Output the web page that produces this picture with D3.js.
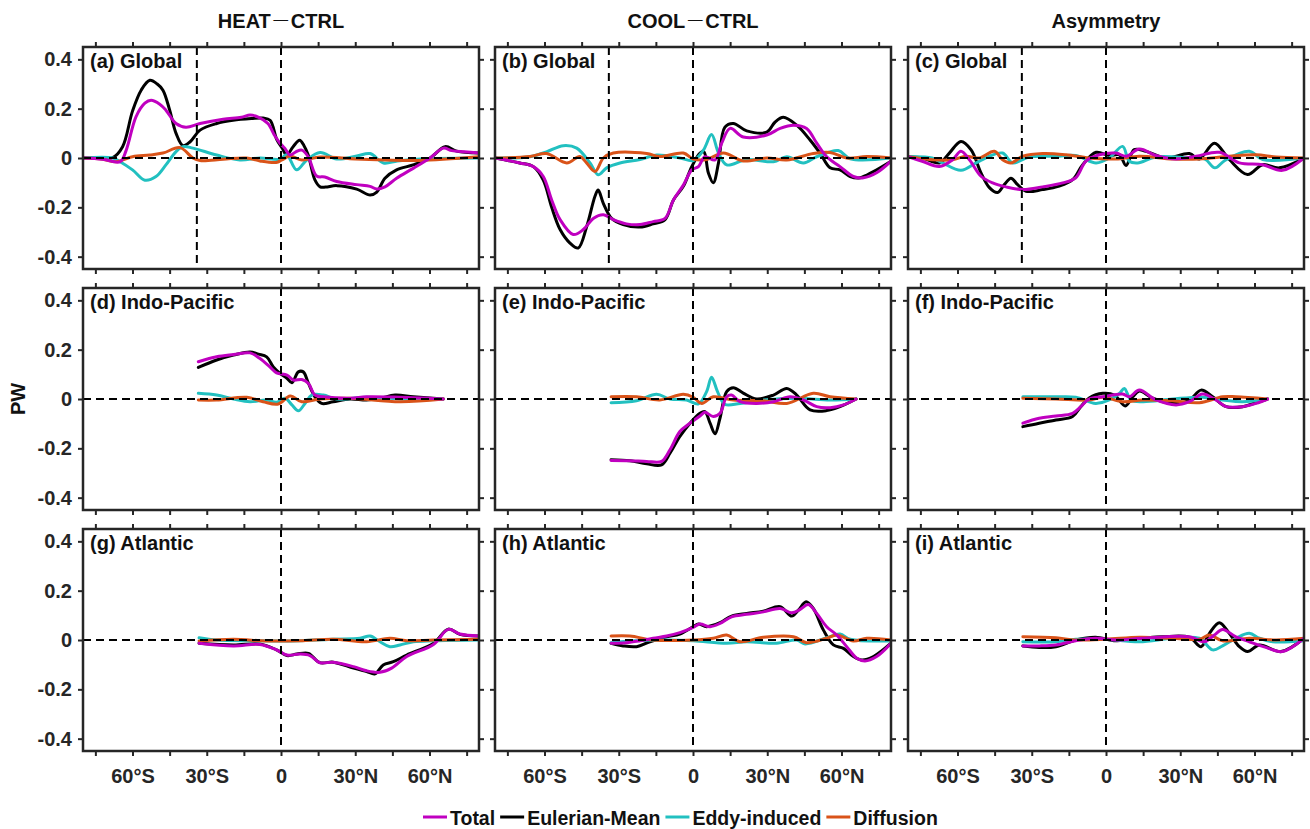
<!DOCTYPE html>
<html>
<head>
<meta charset="utf-8">
<script src="https://cdn.jsdelivr.net/npm/d3@7"></script>
<style>
  html, body { margin: 0; padding: 0; background: #fff; }
  svg { display: block; font-family: "Liberation Sans", Arial, sans-serif; font-weight: bold; }
</style>
</head>
<body>
<svg id="chart" width="1310" height="829"></svg>
<script>
// ---- labels and ticks ----
const columnTitles = ["HEAT", "COOL", "Asymmetry"];
const columnSuffix = ["CTRL", "CTRL", null];
const panelLabels = [
  "(a) Global", "(b) Global", "(c) Global",
  "(d) Indo-Pacific", "(e) Indo-Pacific", "(f) Indo-Pacific",
  "(g) Atlantic", "(h) Atlantic", "(i) Atlantic"
];
const seriesNames = ["Total", "Eulerian-Mean", "Eddy-induced", "Diffusion"];
const yTicks = [-0.4, -0.2, 0, 0.2, 0.4];
const xTicks = [-75, -60, -45, -30, -15, 0, 15, 30, 45, 60, 75];
const xTickLabels = ["60°S", "30°S", "0", "30°N", "60°N"];
const xLabelledTicks = [-60, -30, 0, 30, 60];
const yAxisTitle = "PW";
const capeLatitude = -34;

// ---- meridional heat transport anomalies [latitude, PW] ----
// (a) Global, HEAT - CTRL
const aTotal = [[-80,0],[-72,-0.005],[-65,-0.015],[-62.6,0.03],[-58.6,0.167],[-55,0.222],[-52.5,0.234],[-49,0.218],[-46.5,0.194],[-42.4,0.14],[-38.4,0.125],[-32.7,0.14],[-23.4,0.157],[-16,0.165],[-12.5,0.174],[-9,0.165],[-5.3,0.14],[-2.5,0.09],[-0.4,0.06],[1.5,0.04],[3.6,0.012],[6,0.025],[8.4,0.032],[11,0.005],[14.4,-0.073],[17.7,-0.077],[22.5,-0.095],[30.6,-0.108],[36,-0.115],[38.7,-0.126],[42,-0.117],[46.7,-0.082],[53.4,-0.042],[60.2,0],[65.6,0.04],[69,0.03],[74,0.025],[80,0.02]];
const aEuler = [[-80,0],[-72,0],[-68,0.002],[-64,0.046],[-60,0.19],[-56.5,0.275],[-53,0.315],[-50,0.3],[-47.7,0.275],[-45,0.195],[-42.4,0.1],[-39.6,0.05],[-36.8,0.065],[-32.7,0.113],[-26,0.14],[-19.4,0.153],[-12,0.16],[-7.3,0.162],[-4.4,0.153],[-1.7,0.075],[0.5,0.04],[2.3,0.012],[4.9,0.046],[7.5,0.072],[9.3,0.05],[11,0.012],[13.7,-0.089],[15.8,-0.117],[18,-0.118],[22.5,-0.112],[30.6,-0.126],[36,-0.15],[38.7,-0.138],[42,-0.082],[46.7,-0.048],[53.4,-0.028],[60.2,0],[66.3,0.046],[71,0.028],[80,0.02]];
const aEddy = [[-80,0],[-68,0],[-65,-0.015],[-60,-0.048],[-55,-0.09],[-50.5,-0.075],[-46.5,-0.028],[-42.4,0.026],[-39.6,0.046],[-35.6,0.04],[-26,0.012],[-16.6,-0.008],[-8.5,0],[-0.4,-0.005],[2.3,0.013],[6.3,-0.048],[10.4,-0.008],[15.8,0.022],[22.5,-0.004],[30.6,0.008],[36,0.018],[41.4,-0.02],[47,-0.012],[56,-0.004],[80,0]];
const aDiff = [[-80,0],[-72,-0.005],[-66.6,-0.015],[-60,0.005],[-53,0.012],[-47.7,0.02],[-40.8,0.042],[-35.6,0],[-32.7,-0.01],[-23.4,-0.005],[-14,0],[-8.5,-0.012],[-2,-0.018],[0.4,-0.008],[3.6,0.008],[8.4,-0.008],[15.8,0.004],[30,-0.004],[42,-0.008],[56,-0.01],[80,0.005]];

// (b) Global, COOL - CTRL
const bTotal = [[-80,0],[-70,-0.02],[-64.5,-0.035],[-60.5,-0.075],[-57.1,-0.17],[-53.7,-0.25],[-48.4,-0.31],[-44.3,-0.29],[-40.3,-0.245],[-36.2,-0.23],[-32.2,-0.25],[-26.9,-0.267],[-21.4,-0.27],[-16.1,-0.258],[-11.3,-0.245],[-7.9,-0.17],[-3.9,-0.11],[-0.5,-0.048],[2.2,-0.035],[4.8,0.005],[8.9,-0.008],[11.6,0.06],[15,0.12],[20.3,0.085],[29.8,0.093],[35.2,0.12],[40.6,0.133],[45.9,0.12],[50,0.06],[54,0.005],[59.4,-0.035],[64.8,-0.075],[68.9,-0.08],[74.2,-0.06],[80,-0.013]];
const bEuler = [[-80,0],[-70,-0.02],[-64.5,-0.035],[-60.5,-0.09],[-57.1,-0.2],[-53.7,-0.29],[-49.7,-0.345],[-46.4,-0.365],[-43,-0.28],[-39.6,-0.155],[-38.3,-0.13],[-36.2,-0.185],[-32.9,-0.245],[-28.2,-0.27],[-21.4,-0.28],[-16.1,-0.267],[-11.3,-0.25],[-7.9,-0.17],[-3.9,-0.115],[-0.5,-0.035],[2.8,0.02],[4.4,0.025],[6.2,-0.06],[8.2,-0.1],[10.3,-0.02],[12.9,0.125],[16.3,0.14],[21.7,0.11],[29.8,0.105],[33.1,0.145],[36.5,0.165],[41.9,0.133],[47.3,0.073],[51.3,0.02],[55.4,-0.04],[59.4,-0.048],[63.5,-0.075],[67.5,-0.08],[72.9,-0.055],[80,-0.013]];
const bEddy = [[-80,0],[-65.9,0.005],[-59.2,0.025],[-52.4,0.05],[-47,0.04],[-41.6,-0.02],[-38.3,-0.068],[-34.9,-0.04],[-29.5,-0.02],[-21.4,-0.006],[-14.7,0.012],[-5.3,0],[0.1,-0.01],[4.2,0.032],[7.5,0.095],[10.3,0.02],[13.6,-0.028],[21.7,-0.006],[32.5,-0.015],[37.9,0.005],[44.6,-0.02],[50,0.005],[58.7,0.03],[63.5,-0.003],[80,0]];
const bDiff = [[-80,0],[-65.9,0.006],[-59.2,0.018],[-51,-0.02],[-45.7,0.006],[-43,-0.02],[-39.6,-0.055],[-36.2,0],[-32.2,0.02],[-18.7,0.018],[-13.4,0.006],[-3.9,0.02],[0.1,-0.004],[5.5,-0.006],[12.3,0.02],[20.3,-0.012],[29.8,0],[37.9,-0.008],[48.6,0.018],[55.4,0.022],[62.1,0],[70.2,0.006],[80,0]];

// (c) Global, asymmetry
const cTotal = [[-80,0.005],[-74.3,-0.013],[-67.3,-0.034],[-62,-0.007],[-58.6,0.027],[-55.2,-0.007],[-50.5,-0.074],[-45.8,-0.101],[-40.4,-0.117],[-33.6,-0.128],[-25.6,-0.117],[-17.5,-0.101],[-12.2,-0.08],[-8.1,-0.013],[-2.7,0.013],[4,0.02],[8.1,0.007],[13.5,0.036],[20.2,0.01],[28.3,-0.004],[36.4,0.007],[45.8,0.023],[53.9,-0.02],[63.3,-0.027],[71.3,-0.05],[80,0]];
const cEuler = [[-80,0.005],[-74.3,0],[-67.3,-0.02],[-63.3,0.02],[-58.6,0.067],[-54.5,0.033],[-50.5,-0.06],[-47.1,-0.12],[-43.8,-0.14],[-41.1,-0.108],[-38.4,-0.082],[-35.7,-0.108],[-32.3,-0.135],[-25.6,-0.128],[-18.9,-0.114],[-13.5,-0.088],[-9.4,-0.027],[-4,0.023],[1.3,0.01],[5.4,0.013],[8.1,-0.03],[11.4,0.034],[16.2,0.027],[24.2,0],[33.7,0.018],[37.7,-0.004],[43.8,0.06],[49.8,-0.006],[57.2,-0.067],[63.3,-0.027],[70,-0.04],[80,0]];
const cEddy = [[-80,0.005],[-70.3,0],[-66,-0.02],[-58.6,-0.05],[-52.5,-0.02],[-47.1,0.007],[-41.8,0.02],[-37.7,-0.02],[-31,0.004],[-20.2,0.007],[-12.2,0.01],[-4,-0.02],[1.3,0],[6.7,0.047],[9.4,-0.013],[12.8,-0.02],[20.2,0.004],[33.7,0],[40,-0.005],[44,-0.04],[48,-0.01],[57.9,0.027],[63.3,-0.006],[80,0]];
const cDiff = [[-80,0.005],[-70.3,-0.007],[-62,-0.007],[-56.5,0.007],[-51.2,0],[-45.1,0.027],[-41.8,-0.007],[-38.4,-0.02],[-33.6,0.007],[-25.6,0.018],[-16.2,0.013],[-6.8,0],[4,-0.004],[13.5,0.007],[26.9,-0.004],[37.7,-0.004],[49.8,0.007],[60.6,0.013],[68.7,0.004],[80,0]];

// (d) Indo-Pacific, HEAT - CTRL
const dTotal = [[-33.4,0.151],[-26,0.171],[-19.2,0.18],[-12.5,0.187],[-8.5,0.164],[-4.5,0.13],[-1.8,0.106],[2.4,0.097],[5,0.077],[8.4,0.079],[11.1,0.063],[13.7,0.016],[17.1,0.009],[27.9,0.003],[34.6,0.009],[48.1,0.007],[65.6,0]];
const dEuler = [[-33.4,0.128],[-26,0.158],[-19.2,0.178],[-12.5,0.191],[-9.1,0.182],[-5.8,0.171],[-3.1,0.13],[-0.4,0.104],[2.4,0.084],[4.4,0.066],[7,0.11],[9,0.11],[11.1,0.063],[13.7,0.009],[16.4,-0.018],[21.1,-0.011],[27.9,0],[34.6,-0.004],[40,0.003],[46.1,0.016],[53.5,0.009],[65.6,0]];
const dEddy = [[-33.4,0.023],[-26,0.016],[-19.2,0],[-12.5,-0.011],[-5.8,-0.004],[-1.8,-0.013],[1.7,0.003],[4.4,-0.024],[7,-0.048],[9.7,-0.018],[12.4,0.016],[17.1,0.016],[22.5,0],[34.6,0.007],[48.1,0],[65.6,0]];
const dDiff = [[-33.4,-0.004],[-26,-0.004],[-13.8,0.007],[-7.2,-0.011],[-1.1,-0.02],[3.7,0.012],[8.4,-0.011],[15.7,0],[27.9,0.003],[48.1,-0.011],[65.6,0]];

// (e) Indo-Pacific, COOL - CTRL
const eTotal = [[-33.1,-0.249],[-25.5,-0.25],[-18.7,-0.253],[-12.7,-0.253],[-9.3,-0.206],[-5.3,-0.132],[-1.2,-0.098],[2.8,-0.069],[4.8,-0.054],[8.2,-0.071],[10.9,-0.058],[13.6,0.009],[15.6,0.016],[19,-0.011],[25.7,-0.018],[32.5,-0.011],[39.2,0.009],[44.6,-0.004],[50,-0.031],[55.4,-0.035],[60.8,-0.024],[65.9,0]];
const eEuler = [[-33.1,-0.246],[-25.5,-0.25],[-18.7,-0.263],[-12.7,-0.267],[-9.3,-0.22],[-5.3,-0.152],[-1.2,-0.098],[2.8,-0.058],[4.8,-0.051],[6.9,-0.098],[8.9,-0.141],[10.9,-0.078],[13.6,0.03],[16.3,0.046],[20.3,0.024],[25.7,0],[32.5,0.016],[37.9,0.043],[41.9,0.016],[47.3,-0.044],[54,-0.047],[59.4,-0.031],[65.9,0]];
const eEddy = [[-33.1,-0.015],[-22.8,-0.007],[-14.7,0.019],[-9.3,0],[-2.6,-0.004],[2.2,-0.02],[5.5,0.03],[7.5,0.088],[9.9,0.03],[12.9,-0.022],[19,-0.018],[28.4,-0.004],[41.9,0.003],[55.4,-0.004],[65.9,0]];
const eDiff = [[-33.1,0.009],[-22.8,0.009],[-13.4,-0.004],[-3.9,0.019],[0.1,0.007],[3.5,-0.018],[8.2,0.009],[16.3,-0.004],[28.4,-0.007],[37.9,-0.018],[48.6,0.023],[55.4,0.009],[65.9,0]];

// (f) Indo-Pacific, asymmetry
const fTotal = [[-33.6,-0.098],[-27,-0.078],[-20.2,-0.069],[-13.5,-0.058],[-10.2,-0.031],[-6.8,0],[-1.3,0.009],[6.7,0.02],[9.4,0.009],[13.5,0.036],[20.2,-0.004],[28.3,-0.024],[33.7,-0.011],[39,0.02],[44.4,-0.004],[48.5,-0.031],[55.2,-0.031],[60.6,-0.018],[65.3,0]];
const fEuler = [[-33.6,-0.112],[-27,-0.098],[-20.2,-0.085],[-13.5,-0.071],[-10.2,-0.031],[-6.8,0.004],[-1.3,0.023],[3.4,0.016],[7.8,-0.028],[10.8,0.009],[13.5,0.032],[18.9,0.003],[26.9,-0.018],[33.7,-0.004],[38.4,0.036],[43.1,0.009],[48.5,-0.031],[55.2,-0.031],[60.6,-0.015],[65.3,0]];
const fEddy = [[-33.6,0.009],[-20.2,0.009],[-12.2,0.007],[-4.2,-0.018],[1.3,-0.004],[5.4,0.023],[7.4,0.043],[10.1,-0.004],[14.8,-0.011],[26.9,0],[39,0.007],[47.1,-0.004],[55.2,-0.011],[65.3,0]];
const fDiff = [[-33.6,0.003],[-20.2,0],[-6.8,-0.004],[-1.3,0.007],[6.7,-0.011],[14.8,-0.004],[26.9,-0.007],[37.7,-0.015],[47.1,0.009],[52.5,0.009],[65.3,0]];

// (g) Atlantic, HEAT - CTRL
const gTotal = [[-33.1,-0.013],[-19.2,-0.024],[-8.5,-0.018],[-1.8,-0.04],[2.4,-0.061],[7.7,-0.057],[11.7,-0.063],[15.7,-0.092],[21.1,-0.09],[29.3,-0.108],[34.6,-0.125],[40,-0.131],[44.7,-0.114],[50.8,-0.067],[61.6,-0.018],[67.6,0.043],[72.3,0.024],[80,0.016]];
const gEuler = [[-33.1,-0.013],[-19.2,-0.02],[-8.5,-0.016],[-1.8,-0.04],[2.4,-0.063],[6.4,-0.057],[11.1,-0.054],[15.7,-0.092],[21.1,-0.09],[29.3,-0.114],[34.6,-0.128],[38,-0.137],[41.3,-0.101],[45.4,-0.088],[50.8,-0.061],[61.6,-0.013],[67.6,0.044],[72.3,0.023],[80,0.016]];
const gEddy = [[-33.1,0.009],[-26,0],[-12.5,-0.003],[7.7,-0.003],[21.1,0.003],[31.9,0.007],[36,0.016],[40,-0.007],[44,-0.027],[48.1,-0.02],[53.5,-0.007],[61.6,-0.003],[80,0]];
const gDiff = [[-33.1,-0.004],[-19.2,0.003],[-5.8,-0.004],[7.7,-0.003],[21.1,0.003],[34.6,-0.007],[44,0.007],[50.8,-0.003],[61.6,0],[80,0.003]];

// (h) Atlantic, COOL - CTRL
const hTotal = [[-33.1,-0.013],[-26.9,-0.011],[-21.4,-0.003],[-16.1,0.007],[-10.6,0.016],[-5.3,0.03],[0.1,0.051],[2.8,0.065],[6.9,0.054],[10.9,0.067],[15.6,0.094],[21.7,0.104],[28.4,0.114],[35.2,0.128],[39.9,0.11],[43.3,0.124],[46.6,0.144],[50,0.108],[54,0.054],[58.1,0.02],[62.1,-0.027],[66.2,-0.074],[69.5,-0.085],[74.2,-0.067],[80,-0.013]];
const hEuler = [[-33.1,-0.013],[-28.2,-0.024],[-22.8,-0.027],[-17.4,-0.007],[-10.6,0.013],[-5.3,0.024],[0.1,0.054],[2.2,0.065],[5.5,0.054],[10.9,0.07],[15.6,0.097],[21.7,0.108],[28.4,0.117],[35.2,0.135],[39.9,0.097],[42.6,0.121],[45.7,0.155],[48.6,0.128],[52.7,0.04],[56.7,-0.02],[60.8,-0.034],[64.8,-0.067],[68.2,-0.081],[72.9,-0.067],[80,-0.013]];
const hEddy = [[-33.1,-0.011],[-25.5,-0.004],[-12,0],[0.1,-0.003],[13.6,-0.013],[21.7,-0.007],[33.8,-0.013],[41.9,0],[45.3,-0.016],[54,0.009],[59.4,0.024],[63.5,0.003],[80,-0.004]];
const hDiff = [[-33.1,0.016],[-25.5,0.016],[-16.1,0],[0.1,0],[8.2,0.007],[13.6,0.02],[19,-0.007],[28.4,0.011],[40.6,0.013],[45.9,-0.011],[54,0.007],[58.1,0.02],[64.8,-0.004],[70.2,0.007],[80,0]];

// (i) Atlantic, asymmetry
const iTotal = [[-33.6,-0.024],[-27,-0.024],[-20.2,-0.02],[-12.2,-0.003],[-4.2,0.007],[4,0],[14.8,0.007],[33.7,0.013],[39.7,-0.007],[43.8,0.02],[47.1,0.043],[52.5,0.013],[57.9,-0.007],[64.6,-0.03],[71.3,-0.047],[80,0.007]];
const iEuler = [[-33.6,-0.024],[-27,-0.03],[-20.2,-0.027],[-12.2,0],[-4.2,0.011],[4,-0.003],[14.8,0.007],[22.9,0.013],[33.7,0.011],[38.4,-0.027],[41.8,0.027],[45.8,0.07],[49.8,0.027],[53.9,-0.027],[57.2,-0.047],[62,-0.02],[70.7,-0.047],[80,0.007]];
const iEddy = [[-33.6,-0.007],[-20.2,-0.007],[-12.2,0.003],[0,0.003],[13.5,-0.007],[26.9,0.007],[37.7,0.007],[43.1,-0.04],[47.1,-0.024],[52.5,0.007],[57.9,0.027],[62,0.007],[67.3,-0.007],[80,-0.003]];
const iDiff = [[-33.6,0.013],[-20.2,0.009],[-12.2,0],[0,0.003],[13.5,0.011],[26.9,0.007],[37.7,0.003],[41.8,0.02],[47.1,-0.003],[57.9,0.007],[68.7,0],[80,0.007]];

// Panels in reading order; each holds the four components in legend order
const panelSeries = [
  [aTotal, aEuler, aEddy, aDiff], [bTotal, bEuler, bEddy, bDiff], [cTotal, cEuler, cEddy, cDiff],
  [dTotal, dEuler, dEddy, dDiff], [eTotal, eEuler, eEddy, eDiff], [fTotal, fEuler, fEddy, fDiff],
  [gTotal, gEuler, gEddy, gDiff], [hTotal, hEuler, hEddy, hDiff], [iTotal, iEuler, iEddy, iDiff]
];

// ---- styling ----
const seriesColors = ["#c000c0", "#000000", "#22c0c0", "#d95319"];
const drawOrder = [1, 2, 3, 0];           // Total drawn on top of the components
const axisColor = "#262626";
const fontSize = 20;

// ---- layout ----
const colLeft = [83, 495, 908];
const rowTop = [47, 288, 529];
const panelW = 396, panelH = 222;
const tickLen = 5;

const svg = d3.select("#chart");

const x = d3.scaleLinear().domain([-80, 80]).range([0, panelW]);
const y = d3.scaleLinear().domain([-0.45, 0.45]).range([panelH, 0]);
const line = d3.line()
  .x(d => x(d[0]))
  .y(d => y(d[1]))
  .curve(d3.curveCatmullRom.alpha(0.5));

const yFmt = v => (v === 0 ? "0" : String(v));
const xFmt = v => { const k = xLabelledTicks.indexOf(v); return k >= 0 ? xTickLabels[k] : ""; };

function styleAxis(g, withText) {
  g.select(".domain").remove();
  g.selectAll(".tick line").attr("stroke", axisColor).attr("stroke-width", 2);
  g.selectAll(".tick text")
    .attr("fill", axisColor)
    .style("font-size", fontSize + "px")
    .style("font-weight", "bold")
    .style("font-family", '"Liberation Sans", Arial, sans-serif');
  if (!withText) g.selectAll(".tick text").remove();
}

panelSeries.forEach((series, p) => {
  const row = Math.floor(p / 3), col = p % 3;
  const g = svg.append("g").attr("transform", `translate(${colLeft[col]},${rowTop[row]})`);

  const clipId = "clip" + p;
  g.append("clipPath").attr("id", clipId)
    .append("rect").attr("width", panelW).attr("height", panelH);

  const plot = g.append("g").attr("clip-path", `url(#${clipId})`);

  drawOrder.forEach(s => {
    plot.append("path")
      .datum(series[s])
      .attr("fill", "none")
      .attr("stroke", seriesColors[s])
      .attr("stroke-width", 3)
      .attr("stroke-linejoin", "round")
      .attr("stroke-linecap", "round")
      .attr("d", line);
  });

  // reference lines: equator, zero transport, and the southern tip of Africa in the global row
  const refs = plot.append("g")
    .attr("stroke", "#000").attr("stroke-width", 2).attr("stroke-dasharray", "8,5");
  refs.append("line").attr("x1", 0).attr("x2", panelW).attr("y1", y(0)).attr("y2", y(0));
  refs.append("line").attr("x1", x(0)).attr("x2", x(0)).attr("y1", 0).attr("y2", panelH);
  if (row === 0) {
    refs.append("line").attr("x1", x(capeLatitude)).attr("x2", x(capeLatitude))
      .attr("y1", 0).attr("y2", panelH);
  }

  // axes with outward ticks on all four sides
  g.append("g").call(d3.axisLeft(y).tickValues(yTicks).tickSize(tickLen).tickPadding(6).tickFormat(yFmt))
    .call(a => styleAxis(a, col === 0));
  g.append("g").attr("transform", `translate(${panelW},0)`)
    .call(d3.axisRight(y).tickValues(yTicks).tickSize(tickLen).tickFormat(""))
    .call(a => styleAxis(a, false));
  g.append("g")
    .call(d3.axisTop(x).tickValues(xTicks).tickSize(tickLen).tickFormat(""))
    .call(a => styleAxis(a, false));
  g.append("g").attr("transform", `translate(0,${panelH})`)
    .call(d3.axisBottom(x).tickValues(xTicks).tickSize(tickLen).tickPadding(13).tickFormat(xFmt))
    .call(a => styleAxis(a, row === 2));

  g.append("rect")
    .attr("width", panelW).attr("height", panelH)
    .attr("fill", "none").attr("stroke", axisColor).attr("stroke-width", 2.5);

  g.append("text")
    .attr("x", 7).attr("y", 21)
    .attr("fill", "#111")
    .style("font-size", fontSize + "px")
    .text(panelLabels[p]);
});

// column titles
columnTitles.forEach((t, c) => {
  const txt = svg.append("text")
    .attr("x", colLeft[c] + x(0)).attr("y", 28)
    .attr("text-anchor", "middle")
    .attr("fill", "#111")
    .style("font-size", fontSize + "px");
  txt.append("tspan").text(t);
  if (columnSuffix[c]) {
    txt.append("tspan")
      .style("font-family", '"Noto Sans CJK SC", sans-serif')
      .style("font-weight", "300")
      .text("－");
    txt.append("tspan").text(columnSuffix[c]);
  }
});

// y-axis title
svg.append("text")
  .attr("transform", `translate(25,${rowTop[1] + y(0)}) rotate(-90)`)
  .attr("text-anchor", "middle")
  .attr("fill", "#111")
  .style("font-size", fontSize + "px")
  .text(yAxisTitle);

// legend
const legend = svg.append("g").attr("transform", "translate(423,817)");
let lx = 0;
seriesNames.forEach((name, s) => {
  legend.append("line")
    .attr("x1", lx).attr("x2", lx + 24).attr("y1", 0).attr("y2", 0)
    .attr("stroke", seriesColors[s]).attr("stroke-width", 3);
  const t = legend.append("text")
    .attr("x", lx + 27).attr("y", 8)
    .attr("fill", "#111")
    .style("font-size", "19.5px")
    .text(name);
  lx += 27 + t.node().getComputedTextLength() + 5;
});
</script>
</body>
</html>
